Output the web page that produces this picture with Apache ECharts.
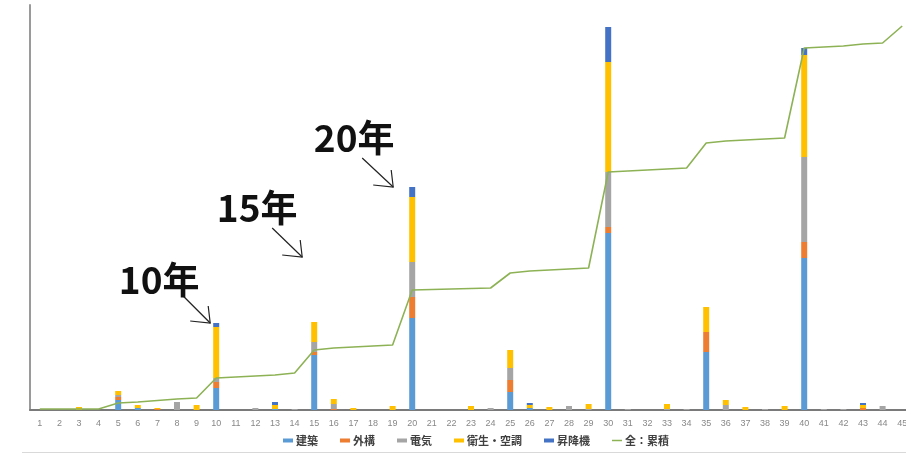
<!DOCTYPE html>
<html><head><meta charset="utf-8">
<script src="https://cdn.jsdelivr.net/npm/echarts@6/dist/echarts.min.js"></script>
<style>html,body{margin:0;padding:0;background:#fff}#c{width:906px;height:455px}</style>
</head><body><div id="c"></div>
<script>
// ---- data (arbitrary units) ----
const categories = ['1','2','3','4','5','6','7','8','9','10','11','12','13','14','15','16','17','18','19','20','21','22','23','24','25','26','27','28','29','30','31','32','33','34','35','36','37','38','39','40','41','42','43','44','45'];
const seriesNames = ['建築','外構','電気','衛生・空調','昇降機','全：累積'];
const kenchiku  = [0,0,0,0,10,2,0,0,0,22, 0,0,1,0,55,0,0,0,0,92, 0,0,0,0,18,2,0,0,0,177, 0,0,0,0,58,0,0,0,0,152, 0,0,0,0,0];
const gaikou    = [0,0,0,0,3,0,1,0,0,6, 0,0,0,0,3,1,0,0,0,21, 0,0,0,0,12,0,0,0,0,6, 0,0,0,0,20,0,0,0,0,16, 0,0,2,0,0];
const denki     = [0,0,0,0,2,0,0,8,0,4, 0,2,0,1,10,5,0,0,0,35, 0,0,0,2,12,0,0,4,1,55, 1,0,1,1,0,5,0,1,0,85, 1,1,0,4,0];
const eisei     = [0,0,3,0,4,3,1,0,5,51, 0,0,4,0,20,5,2,0,4,65, 0,0,4,0,18,3,3,0,5,110, 0,0,5,0,25,5,3,0,4,102, 0,0,3,0,0];
const shoukouki = [0,0,0,0,0,0,0,0,0,4, 0,0,3,0,0,0,0,0,0,10, 0,0,0,0,0,2,0,0,0,35, 0,0,0,0,0,0,0,0,0,7, 0,0,2,0,0];
const ruiseki   = [1,1,1,1,7,8,9.5,11,12,32, 33,34,35,37,60,62,63,64,65,120, 120.5,121,121.5,122,137,139,140,141,142,238, 239,240,241,242,267,269,270,271,272,362, 363,364,366,367,384];
const annotationLabels = ['10年','15年','20年'];
const annotationCategories = ['10','15','20'];

// ---- chart ----
const colors = ['#5B9BD5','#ED7D31','#A5A5A5','#FFC000','#4472C4','#8DB255'];
const barData = [kenchiku, gaikou, denki, eisei, shoukouki];
const chart = echarts.init(document.getElementById('c'), null, {renderer:'canvas'});

const series = barData.map((d,i)=>({
  name: seriesNames[i], type:'bar', stack:'total', data:d, barWidth:6,
  itemStyle:{color:colors[i]}, emphasis:{disabled:true}, animation:false
}));
series.push({
  name: seriesNames[5], type:'line', yAxisIndex:1, data:ruiseki, symbol:'none', showSymbol:false,
  lineStyle:{color:colors[5], width:1.6}, itemStyle:{color:colors[5]}, z:5, animation:false
});

chart.setOption({
  animation:false,
  backgroundColor:'#ffffff',
  grid:{left:30, right:-6, top:5, bottom:45, containLabel:false, outerBoundsMode:'none'},
  xAxis:{type:'category', data:categories, boundaryGap:true,
    axisLine:{show:true, lineStyle:{color:'#7a7a7a', width:2}},
    axisTick:{show:false},
    axisLabel:{interval:0, fontSize:9, color:'#888', margin:9, fontFamily:'Liberation Sans'},
    splitLine:{show:false}},
  yAxis:[
    {type:'value', min:0, max:405, axisLine:{show:true, lineStyle:{color:'#9a9a9a', width:2}},
     axisLabel:{show:false}, axisTick:{show:false}, splitLine:{show:false}},
    {type:'value', min:0, max:405, show:false, splitLine:{show:false}}
  ],
  legend:{left:283, top:435, padding:0, itemWidth:10, itemHeight:4, itemGap:22, symbolKeepAspect:true,
    textStyle:{fontSize:11, color:'#404040', fontWeight:'bold', fontFamily:'Noto Sans CJK JP', padding:[0,0,0,-2]},
    data:[
      {name:'建築', icon:'rect'},{name:'外構', icon:'rect'},{name:'電気', icon:'rect'},
      {name:'衛生・空調', icon:'rect'},{name:'昇降機', icon:'rect'},
      {name:'全：累積', icon:'path://M0,0H10V1.5H0Z'}
    ]},
  series: series
});

// ---- annotations anchored to the bar tops via the chart's own scales ----
const layout = {  // pixel offsets: tip relative to bar top; tail & text relative to tip
  '10': {tip:[-6,0],   tail:[-28,-28], text:[-51,-43]},
  '15': {tip:[-12,-65],tail:[-30,-29], text:[-45,-49]},
  '20': {tip:[-19,0],  tail:[-31,-29], text:[-39,-49]}
};
const graphics = [];
annotationCategories.forEach((cat, k)=>{
  const i = categories.indexOf(cat);
  const total = kenchiku[i]+gaikou[i]+denki[i]+eisei[i]+shoukouki[i];
  const p = chart.convertToPixel({gridIndex:0}, [cat, total]);
  const L = layout[cat];
  const tip = [p[0]+L.tip[0], p[1]+L.tip[1]];
  graphics.push({type:'polyline', shape:{points:[[tip[0]+L.tail[0], tip[1]+L.tail[1]], tip]},
    style:{stroke:'#222', lineWidth:1.2, fill:null}, z:10});
  graphics.push({type:'polyline', shape:{points:[[tip[0]-20, tip[1]-2], tip, [tip[0]-2, tip[1]-17]]},
    style:{stroke:'#222', lineWidth:1.2, fill:null}, z:10});
  graphics.push({type:'text', x:tip[0]+L.text[0], y:tip[1]+L.text[1], z:10,
    style:{text:annotationLabels[k], fill:'#111', font:'bold 37px "Noto Sans CJK JP"', align:'center', verticalAlign:'middle'}});
});
graphics.push({type:'rect', shape:{x:22, y:452, width:884, height:1}, style:{fill:'#d9d9d9'}, z:1});
chart.setOption({graphic:graphics});
</script>
</body></html>
